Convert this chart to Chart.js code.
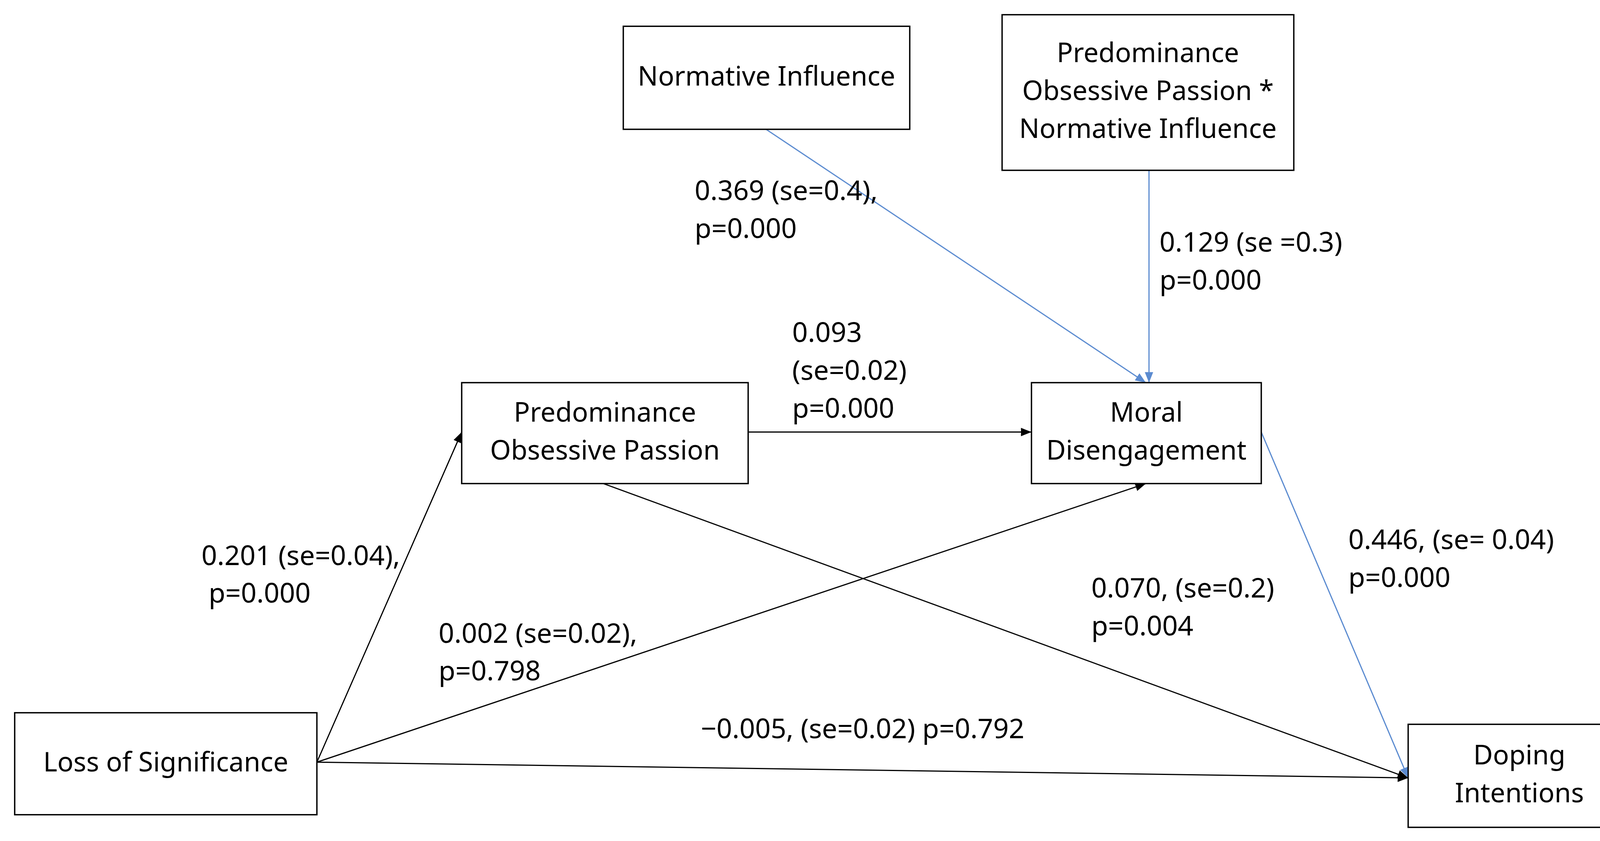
<!DOCTYPE html>
<html>
<head>
<meta charset="utf-8">
<script src="https://cdn.jsdelivr.net/npm/chart.js@4"></script>
<style>
  html, body { margin: 0; padding: 0; background: #fff; }
  #wrap { width: 4212px; height: 2152px; }
</style>
</head>
<body>
<div id="wrap"><canvas id="diagram"></canvas></div>
<script>
// Node labels (lines) and box extents in diagram units (x 0-1568, y 0-800)
const nodeLabels = [
  ['Normative Influence'],
  ['Predominance', 'Obsessive Passion *', 'Normative Influence'],
  ['Predominance', 'Obsessive Passion'],
  ['Moral', 'Disengagement'],
  ['Loss of Significance'],
  ['Doping', 'Intentions']
];
const nodeBoxes = [
  [594, 25, 867, 123],
  [955, 14, 1233, 162],
  [440, 364, 713, 460],
  [983, 364, 1202, 460],
  [14, 678, 302, 775],
  [1342, 689, 1554, 787]
];

// Paths: start point, end point, colour
const pathStarts = [[730, 123], [1095, 162], [713, 411], [1202, 411], [575, 460], [302, 725], [302, 725], [302, 725]];
const pathEnds   = [[1092, 364], [1095, 364], [983, 411], [1342, 740], [1342, 740], [440, 411], [1092, 460], [1342, 740]];
const pathBlue   = [true, true, false, true, false, false, false, false];

// Coefficient labels: text lines and left anchor / first line centre
const coefLines = [
  ['0.369 (se=0.4),', 'p=0.000'],
  ['0.129 (se =0.3)', 'p=0.000'],
  ['0.093', '(se=0.02)', 'p=0.000'],
  ['0.446, (se= 0.04)', 'p=0.000'],
  ['0.201 (se=0.04),', ' p=0.000'],
  ['0.070, (se=0.2)', 'p=0.004'],
  ['0.002 (se=0.02),', 'p=0.798'],
  ['\u22120.005, (se=0.02) p=0.792']
];
const coefAnchors = [[662, 183], [1105, 232], [755, 318], [1285, 515], [192, 530], [1040, 561], [418, 604], [668, 695]];

const BLUE = '#5B8BD0';
const lineGap = 36;

const datasets = pathStarts.map((s, i) => ({
  data: [{ x: s[0], y: s[1] }, { x: pathEnds[i][0], y: pathEnds[i][1] }],
  showLine: true,
  borderColor: pathBlue[i] ? BLUE : '#000',
  borderWidth: 3,
  pointRadius: 0
}));

const diagramPlugin = {
  id: 'diagram',
  afterDatasetsDraw(chart) {
    const ctx = chart.ctx;
    const xs = chart.scales.x, ys = chart.scales.y;
    const k = xs.getPixelForValue(1) - xs.getPixelForValue(0);
    ctx.save();
    // arrowheads
    pathStarts.forEach((s, i) => {
      const x0 = xs.getPixelForValue(s[0]), y0 = ys.getPixelForValue(s[1]);
      const x1 = xs.getPixelForValue(pathEnds[i][0]), y1 = ys.getPixelForValue(pathEnds[i][1]);
      const a = Math.atan2(y1 - y0, x1 - x0);
      const len = 10 * k, w = 4 * k;
      ctx.fillStyle = pathBlue[i] ? BLUE : '#000';
      ctx.beginPath();
      ctx.moveTo(x1, y1);
      ctx.lineTo(x1 - len * Math.cos(a) + w * Math.sin(a), y1 - len * Math.sin(a) - w * Math.cos(a));
      ctx.lineTo(x1 - len * Math.cos(a) - w * Math.sin(a), y1 - len * Math.sin(a) + w * Math.cos(a));
      ctx.closePath();
      ctx.fill();
    });
    // boxes
    ctx.font = (25.5 * k) + 'px "Noto Sans"';
    ctx.textAlign = 'center';
    ctx.textBaseline = 'middle';
    nodeBoxes.forEach((b, i) => {
      const x0 = xs.getPixelForValue(b[0]), y0 = ys.getPixelForValue(b[1]);
      const x1 = xs.getPixelForValue(b[2]), y1 = ys.getPixelForValue(b[3]);
      ctx.fillStyle = '#fff';
      ctx.fillRect(x0, y0, x1 - x0, y1 - y0);
      ctx.strokeStyle = '#000';
      ctx.lineWidth = 1.3 * k;
      ctx.strokeRect(x0, y0, x1 - x0, y1 - y0);
      ctx.fillStyle = '#000';
      const lines = nodeLabels[i];
      const cy = (b[1] + b[3]) / 2;
      lines.forEach((t, j) => {
        const y = cy + (j - (lines.length - 1) / 2) * lineGap;
        ctx.fillText(t, (x0 + x1) / 2, ys.getPixelForValue(y));
      });
    });
    // coefficients
    ctx.font = (26 * k) + 'px "Noto Sans"';
    ctx.textAlign = 'left';
    coefLines.forEach((lines, i) => {
      lines.forEach((t, j) => {
        ctx.fillText(t, xs.getPixelForValue(coefAnchors[i][0]), ys.getPixelForValue(coefAnchors[i][1] + j * lineGap));
      });
    });
    ctx.restore();
  }
};

new Chart(document.getElementById('diagram'), {
  type: 'scatter',
  data: { datasets },
  plugins: [diagramPlugin],
  options: {
    responsive: true,
    maintainAspectRatio: false,
    animation: false,
    layout: { padding: 0 },
    plugins: { legend: { display: false }, tooltip: { enabled: false } },
    scales: {
      x: { type: 'linear', min: 0, max: 1568, display: false },
      y: { type: 'linear', min: 0, max: 800, reverse: true, display: false }
    }
  }
});
</script>
</body>
</html>
